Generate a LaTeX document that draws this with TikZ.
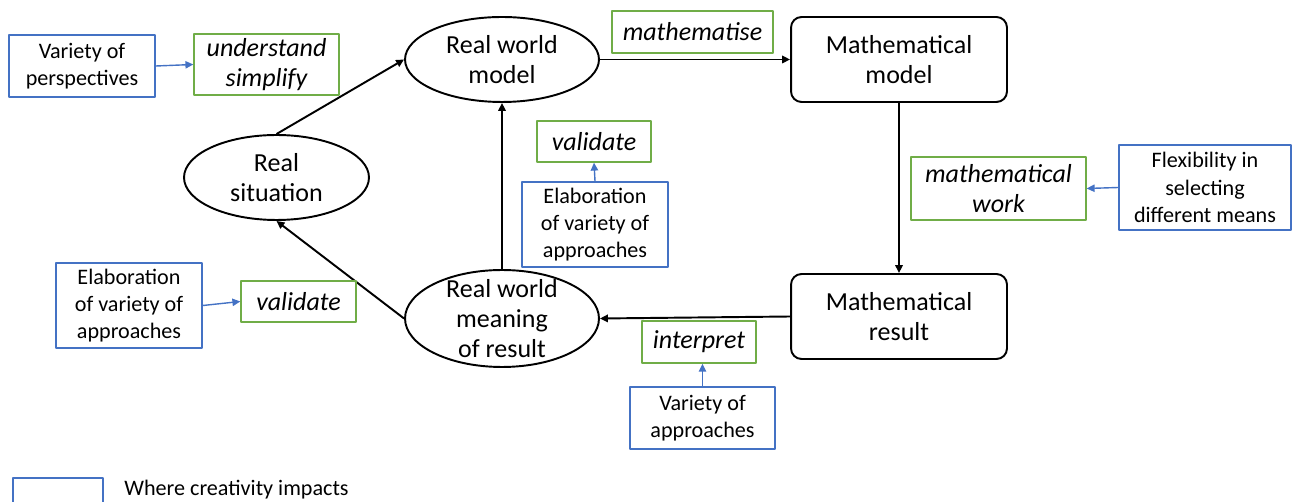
\documentclass[tikz,border=0pt]{standalone}
\usepackage{fontspec}
\setmainfont{Carlito}
\usepackage{xcolor}
\usetikzlibrary{arrows.meta,shapes.geometric}

\definecolor{impactblue}{HTML}{4472C4}
\definecolor{stepgreen}{HTML}{70AD47}
\newcommand{\bigtxt}{\fontsize{14.8}{17.2}\selectfont}
\newcommand{\smalltxt}{\fontsize{12.6}{15.5}\selectfont}

\begin{document}
\begin{tikzpicture}[x=0.02cm,y=-0.02cm,line join=round,
  stage/.style={ellipse,draw,line width=1.1pt,inner xsep=0pt,inner ysep=-8pt,align=center,font=\bigtxt},
  mathbox/.style={draw,line width=1.1pt,rounded corners=6pt,inner sep=0pt,align=center,font=\bigtxt,minimum width=4.32cm,minimum height=1.70cm},
  stepbox/.style={draw=stepgreen,line width=0.8pt,inner sep=0pt,align=center,font=\bigtxt\itshape},
  impactbox/.style={draw=impactblue,line width=1pt,inner sep=0pt,align=center,font=\smalltxt},
  flow/.style={line width=1.1pt,-{Triangle[length=4.5pt,width=4.2pt]}},
  impact/.style={draw=impactblue,line width=0.8pt,-{Triangle[length=4.5pt,width=4.2pt]}}]
  \useasboundingbox (0,0) rectangle (1293,502);
  \clip (0,0) rectangle (1293,502);
  % modelling cycle
  \node[stage,minimum width=3.70cm,minimum height=1.70cm] (rs) at (276.5,177.5) {Real\\situation};
  \node[stage,minimum width=3.88cm,minimum height=1.70cm] (rwm) at (502,59.5) {Real world\\model};
  \node[stage,minimum width=3.88cm,minimum height=1.94cm] (rwmr) at (502,318.5) {Real world\\meaning\\of result};
  \node[mathbox] (mm) at (899,59.5) {Mathematical\\model};
  \node[mathbox] (mr) at (899,316.5) {Mathematical\\result};
  \draw[flow] (rs.north) -- (rwm.west);
  \draw[flow] (rwm.east) -- (mm.west);
  \draw[flow] (mm.south) -- (mr.north);
  \draw[flow] (mr.west) -- (rwmr.east);
  \draw[flow] (rwmr.north) -- (rwm.south);
  \draw[flow] (rwmr.west) -- (rs.south);
  % steps
  \node[stepbox,minimum width=2.90cm,minimum height=1.22cm] (understand) at (266.5,64.5) {understand\\simplify};
  \node[stepbox,minimum width=3.22cm,minimum height=0.84cm] (mathematise) at (692.5,32) {mathematise};
  \node[stepbox,minimum width=3.50cm,minimum height=1.26cm] (work) at (998.5,188.5) {mathematical\\work};
  \node[stepbox,minimum width=2.28cm,minimum height=0.82cm] (validateC) at (594,141.5) {validate};
  \node[stepbox,minimum width=2.30cm,minimum height=0.82cm] (validateL) at (298.5,301.5) {validate};
  \node[stepbox,minimum width=2.28cm,minimum height=0.84cm] (interpret) at (699,342) {interpret};
  % creativity
  \node[impactbox,minimum width=2.92cm,minimum height=1.24cm] (persp) at (82,66) {Variety of\\perspectives};
  \node[impactbox,minimum width=3.44cm,minimum height=1.70cm] (flex) at (1205,187.5) {Flexibility in\\selecting\\different means};
  \node[impactbox,minimum width=2.92cm,minimum height=1.70cm] (elabC) at (595,224.5) {Elaboration\\of variety of\\approaches};
  \node[impactbox,minimum width=2.92cm,minimum height=1.70cm] (elabL) at (129,305.5) {Elaboration\\of variety of\\approaches};
  \node[impactbox,minimum width=2.90cm,minimum height=1.24cm] (approaches) at (702.5,418) {Variety of\\approaches};
  \draw[impact] (persp.east) -- (understand.west);
  \draw[impact] (flex.west) -- (work.east);
  \draw[impact] (elabC.north) -- (validateC.south);
  \draw[impact] (elabL.east) -- (validateL.west);
  \draw[impact] (approaches.north) -- (approaches.north |- interpret.south);
  % legend
  \node[impactbox,anchor=north west,minimum width=1.80cm,minimum height=0.90cm] (key) at (12,477) {};
  \node[font=\smalltxt,anchor=base west,inner sep=0pt] (keytext) at (124,495.5) {Where creativity impacts};
\end{tikzpicture}
\end{document}
